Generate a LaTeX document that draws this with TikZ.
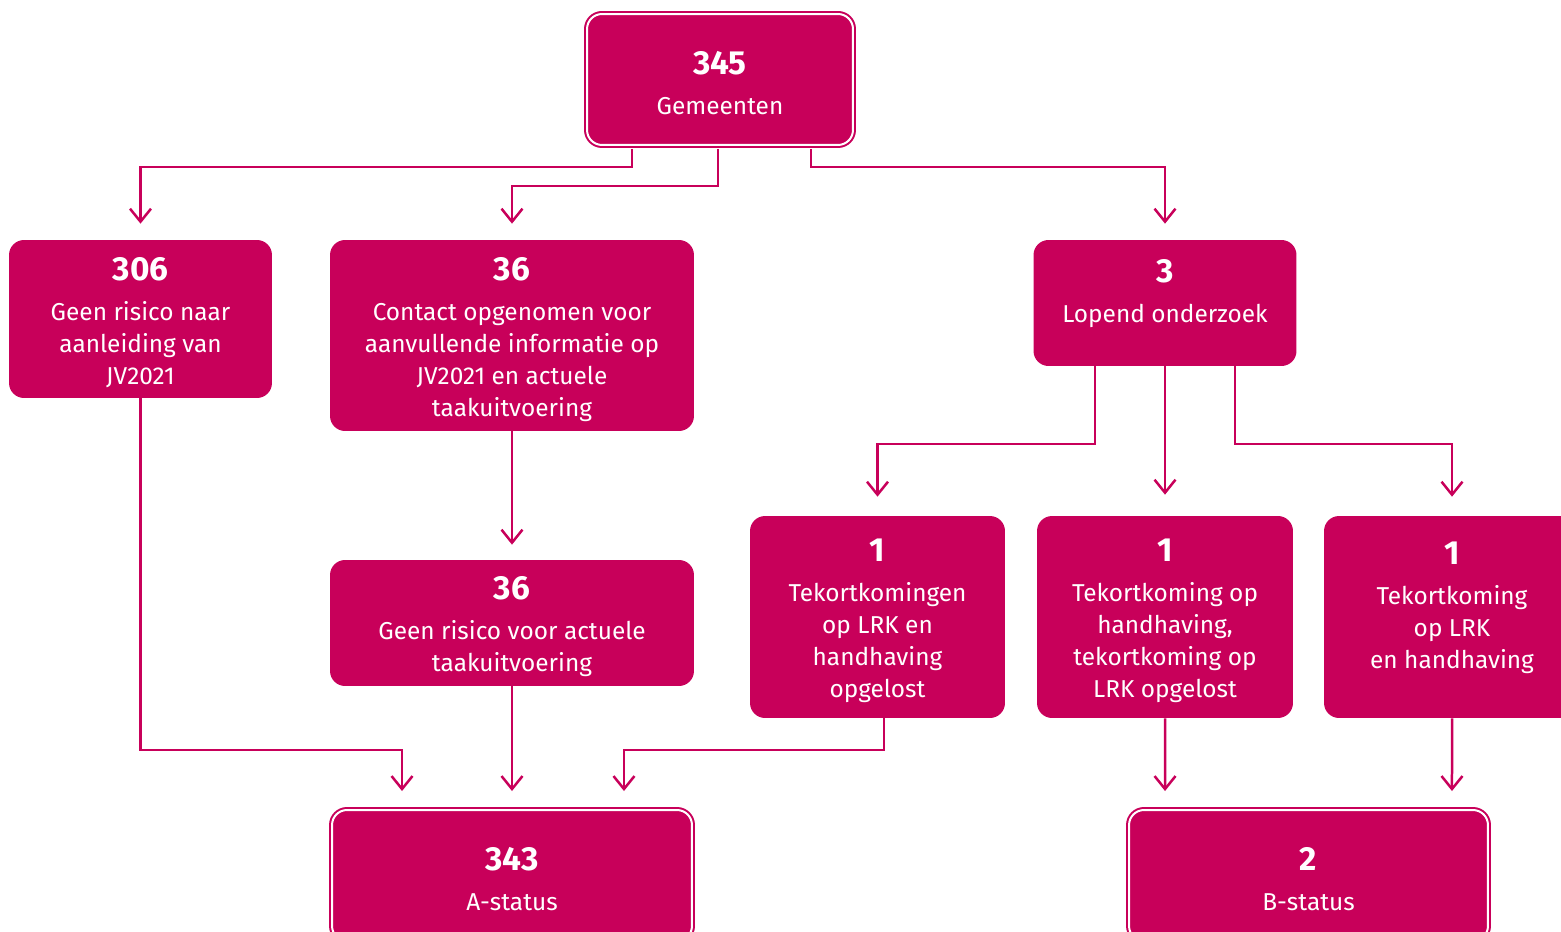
\documentclass[tikz,border=0pt]{standalone}
\usepackage{fontspec}
\setmainfont{Fira Sans}
\usetikzlibrary{arrows.meta,positioning}
\definecolor{rvo}{RGB}{200,0,90}
\newcommand{\nr}[1]{{\fontsize{19}{22}\selectfont\bfseries\rule{0pt}{17.5pt}#1}\\[4.5pt]}

\begin{document}
\begin{tikzpicture}[x=0.02cm,y=-0.02cm]
\tikzstyle{box} = [rectangle, rounded corners=0.3cm, fill=rvo, text=white,
    align=center, inner sep=0pt, font=\fontsize{13.9}{18.2}\selectfont]
\tikzstyle{dbox} = [box, draw=white, line width=0.04cm,
    preaction={draw=rvo, line width=0.12cm}]
\tikzstyle{line} = [draw=rvo, line width=0.05cm, -{Straight Barb[length=0.26cm,width=0.42cm]}]

\useasboundingbox (0,0) rectangle (1561,932);

\node [dbox, minimum width=5.32cm, minimum height=2.62cm] (top) at (720,79.5) {\nr{345}Gemeenten};
\node [box, minimum width=5.26cm, minimum height=3.16cm] (n306) at (140.5,319) {\nr{306}Geen risico naar\\aanleiding van\\JV2021};
\node [box, minimum width=7.28cm, minimum height=3.82cm] (n36a) at (512,335.5) {\nr{36}Contact opgenomen voor\\aanvullende informatie op\\JV2021 en actuele\\taakuitvoering};
\node [box, minimum width=5.26cm, minimum height=2.52cm] (n3) at (1165,303) {\nr{3}Lopend onderzoek\\~};
\node [box, minimum width=7.28cm, minimum height=2.52cm] (n36b) at (512,623) {\nr{36}Geen risico voor actuele\\taakuitvoering};
\node [box, minimum width=5.1cm, minimum height=4.04cm] (n1a) at (877.5,617) {\nr{1}Tekortkomingen\\op LRK en\\handhaving\\opgelost};
\node [box, minimum width=5.12cm, minimum height=4.04cm] (n1b) at (1165,617) {\nr{1}Tekortkoming op\\handhaving,\\tekortkoming op\\LRK opgelost};
\node [box, minimum width=5.12cm, minimum height=4.04cm] (n1c) at (1452,617) {\nr{1}Tekortkoming\\op LRK\\en handhaving\\~};
\node [dbox, minimum width=7.2cm, minimum height=2.62cm] (astat) at (512,875.5) {\nr{343}A-status};
\node [dbox, minimum width=7.18cm, minimum height=2.62cm] (bstat) at (1308.5,875.5) {\nr{2}B-status};

\coordinate (rowA) at (0,750);
\coordinate (rowB) at (0,444);

\path [line] ([xshift=-1.76cm,yshift=-0.06cm]top.south) -- ++(0,18) -| ([yshift=0.32cm]n306.north);
\path [line] ([xshift=-0.04cm,yshift=-0.06cm]top.south) -- ++(0,37) -| ([yshift=0.32cm]n36a.north);
\path [line] ([xshift=1.82cm,yshift=-0.06cm]top.south) -- ++(0,18) -| ([yshift=0.32cm]n3.north);

\path [line] (n306.south) -- (n306.south |- rowA) -| ([xshift=-2.2cm,yshift=0.36cm]astat.north);
\path [line] (n36a.south) -- ([yshift=0.3cm]n36b.north);
\path [line] (n36b.south) -- ([yshift=0.36cm]astat.north);
\path [line] ([xshift=0.13cm]n1a.south) -- ([xshift=0.13cm]n1a.south |- rowA) -| ([xshift=2.24cm,yshift=0.36cm]astat.north);

\path [line] ([xshift=-1.4cm]n3.south) -- ([xshift=-1.4cm]n3.south |- rowB) -| ([yshift=0.38cm]n1a.north);
\path [line] (n3.south) -- ([yshift=0.42cm]n1b.north);
\path [line] ([xshift=1.4cm]n3.south) -- ([xshift=1.4cm]n3.south |- rowB) -| ([yshift=0.38cm]n1c.north);

\path [line] (n1b.south) -- ([xshift=-2.87cm,yshift=0.36cm]bstat.north);
\path [line] (n1c.south) -- ([xshift=2.87cm,yshift=0.36cm]bstat.north);

\end{tikzpicture}
\end{document}
